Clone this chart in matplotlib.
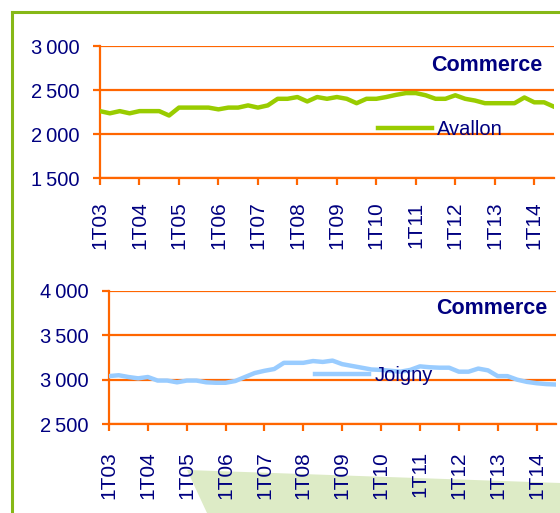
import matplotlib
matplotlib.use('Agg')
from matplotlib import pyplot as plt
from matplotlib.patches import Polygon
from matplotlib.lines import Line2D

plt.rcParams['font.family'] = ['Liberation Sans', 'DejaVu Sans']

# Trimestres 1T03 .. 3T14 (47 points)
quarters = ['%dT%02d' % (q, y) for y in range(3, 15) for q in range(1, 5)][:47]
year_labels = ['1T%02d' % y for y in range(3, 15)]

avallon = [2260, 2235, 2260, 2235, 2260, 2260, 2260, 2210, 2300, 2300,
           2300, 2300, 2280, 2300, 2300, 2325, 2300, 2325, 2400, 2400,
           2420, 2370, 2420, 2400, 2420, 2400, 2350, 2400, 2400, 2420,
           2445, 2465, 2465, 2440, 2400, 2400, 2440, 2400, 2380, 2350,
           2350, 2350, 2350, 2415, 2360, 2360, 2310]

joigny = [3040, 3050, 3030, 3015, 3030, 2990, 2990, 2970, 2990, 2990,
          2970, 2965, 2965, 2985, 3030, 3075, 3100, 3120, 3190, 3190,
          3190, 3210, 3200, 3215, 3175, 3155, 3135, 3115, 3110, 3100,
          3090, 3110, 3150, 3140, 3135, 3135, 3090, 3090, 3125, 3105,
          3040, 3040, 3000, 2975, 2960, 2950, 2945]

top_ticks = [1500, 2000, 2500, 3000]
bottom_ticks = [2500, 3000, 3500, 4000]

navy = '#000080'
orange = '#FF6600'

W, H = 560, 513
fig = plt.figure(figsize=(W / 100, H / 100), dpi=100)

# cadre vert et zone verte claire
fig.add_artist(Line2D([12 / W, 12 / W], [0, 1 - 12 / H], color='#86B817', lw=2.2))
fig.add_artist(Line2D([12 / W, 1], [1 - 12 / H, 1 - 12 / H], color='#86B817', lw=2.2))
fig.add_artist(Polygon([[187 / W, 1 - 470 / H], [1, 1 - 483 / H], [1, 0], [207 / W, 0]],
                       closed=True, facecolor='#DDEBC6', edgecolor='none', zorder=0))


def draw(rect, values, ticks, color, name, leg_pos, com_pos, ypad, xpad):
    ax = fig.add_axes(rect)
    ax.patch.set_alpha(0)
    x = list(range(len(values)))
    ax.plot(x, values, color=color, lw=3.2, solid_joinstyle='round', label=name, zorder=3)
    ax.set_xlim(0, len(values) - 1)
    ax.set_ylim(ticks[0], ticks[-1])
    ax.set_yticks(ticks)
    ax.set_yticklabels([('%d' % t)[:-3] + '\u2009' + ('%d' % t)[-3:] for t in ticks])
    ax.set_xticks(range(0, len(values), 4))
    ax.set_xticklabels(year_labels, rotation=90)
    for t in ticks:
        ax.axhline(t, color=orange, lw=1.6, zorder=1)
    for s in ['top', 'right']:
        ax.spines[s].set_visible(False)
    for s in ['left', 'bottom']:
        ax.spines[s].set_color(orange)
        ax.spines[s].set_linewidth(1.6)
    ax.tick_params(axis='y', colors=orange, labelcolor=navy, labelsize=14.5,
                   length=5, width=1.6, pad=ypad)
    ax.tick_params(axis='x', colors=orange, labelcolor=navy, labelsize=15,
                   length=5, width=1.6, pad=xpad)
    ax.legend(loc='center left', bbox_to_anchor=leg_pos, frameon=False,
              fontsize=14.5, labelcolor=navy, handlelength=2.7, handletextpad=0.25,
              borderpad=0, borderaxespad=0)
    ax.text(com_pos[0], com_pos[1], 'Commerce', transform=ax.transAxes,
            ha='right', va='center', fontsize=15.5, fontweight='bold', color=navy)
    return ax


draw([100 / W, 1 - 178 / H, 454 / W, 132 / H], avallon, top_ticks, '#99CC00',
     'Avallon', (0.612, 0.364), (0.974, 0.856), 9.5, 12)
draw([109 / W, 1 - 424 / H, 447 / W, 133 / H], joigny, bottom_ticks, '#99CCFF',
     'Joigny', (0.461, 0.368), (0.980, 0.872), 10, 14.5)

fig.savefig('out.png', dpi=100)
